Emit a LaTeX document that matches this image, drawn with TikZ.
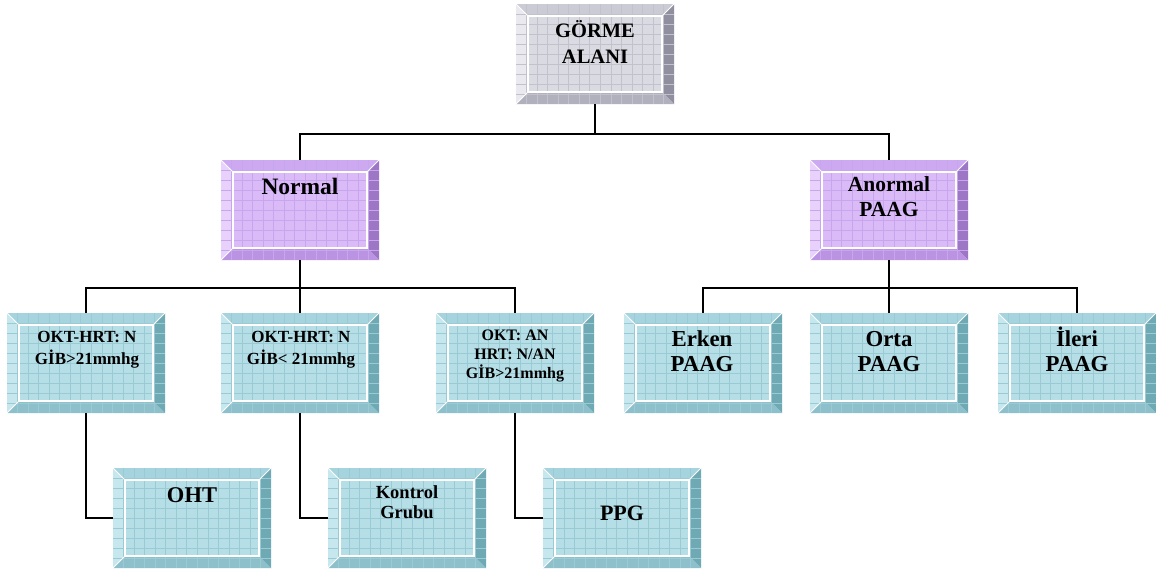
\documentclass[tikz,border=0pt]{standalone}
\usepackage{fontspec}
\setmainfont{Liberation Serif}
\usetikzlibrary{calc}
\definecolor{cyface}{HTML}{B5DEE6}
\definecolor{cytop}{HTML}{A6D4DE}
\definecolor{cyleft}{HTML}{C6E7ED}
\definecolor{cyright}{HTML}{6FA9B4}
\definecolor{cybottom}{HTML}{8DC0CA}
\definecolor{cygrid}{HTML}{9ACAD4}
\definecolor{puface}{HTML}{DABAF7}
\definecolor{putop}{HTML}{CDA9F2}
\definecolor{puleft}{HTML}{E8D2FB}
\definecolor{puright}{HTML}{9D76C6}
\definecolor{pubottom}{HTML}{BA94E2}
\definecolor{pugrid}{HTML}{C7A6EE}
\definecolor{grface}{HTML}{DADAE2}
\definecolor{grtop}{HTML}{CBCBD5}
\definecolor{grleft}{HTML}{E9E9EF}
\definecolor{grright}{HTML}{8F8F9F}
\definecolor{grbottom}{HTML}{B1B1BD}
\definecolor{grgrid}{HTML}{C2C2CC}
\tikzset{
  bx/.style={rectangle, minimum width=158pt, minimum height=100pt, inner sep=0pt, outer sep=0pt, draw=none},
  lbl/.style={align=center, inner sep=0pt, anchor=base},
  conn/.style={draw=black, line width=1.8pt},
}
\newcommand\bevbox[3]{%
  \node[bx, fill=#3face] (#1) at (#2) {};
  \fill[#3top] (#1.north west) -- (#1.north east) -- ([shift={(-12pt,-12pt)}]#1.north east) -- ([shift={(12pt,-12pt)}]#1.north west) -- cycle;
  \fill[#3left] (#1.north west) -- (#1.south west) -- ([shift={(12pt,12pt)}]#1.south west) -- ([shift={(12pt,-12pt)}]#1.north west) -- cycle;
  \fill[#3right] (#1.north east) -- (#1.south east) -- ([shift={(-12pt,12pt)}]#1.south east) -- ([shift={(-12pt,-12pt)}]#1.north east) -- cycle;
  \fill[#3bottom] (#1.south west) -- (#1.south east) -- ([shift={(-12pt,12pt)}]#1.south east) -- ([shift={(12pt,12pt)}]#1.south west) -- cycle;
  \begin{scope}
    \clip (#1.north west) rectangle (#1.south east);
    \foreach \k in {1,...,14} {\draw[#3grid, line width=0.5pt] ([xshift=\k*10.53pt]#1.north west) -- ([xshift=\k*10.53pt]#1.south west);}
    \foreach \k in {1,...,9} {\draw[#3grid, line width=0.5pt] ([yshift=-\k*10pt]#1.north west) -- ([yshift=-\k*10pt]#1.north east);}
  \end{scope}
  \draw[white, line width=1.3pt] ([shift={(12pt,-12pt)}]#1.north west) rectangle ([shift={(-12pt,12pt)}]#1.south east);
  \draw[white, line width=1pt] (#1.north west) -- ([shift={(12pt,-12pt)}]#1.north west);
  \draw[white, line width=1pt] (#1.north east) -- ([shift={(-12pt,-12pt)}]#1.north east);
  \draw[white, line width=1pt] (#1.south west) -- ([shift={(12pt,12pt)}]#1.south west);
}
\newcommand\fs[2]{\bfseries\fontsize{#1}{#2}\selectfont}
\begin{document}
\begin{tikzpicture}[x=1pt, y=-1pt]
\useasboundingbox[fill=white] (0,0) rectangle (1156,570);
% boxes
\bevbox{g}{595,54}{gr}
\bevbox{normal}{300,210}{pu}
\bevbox{anormal}{889,210}{pu}
\bevbox{r31}{86,363}{cy}
\bevbox{r32}{300,363}{cy}
\bevbox{r33}{515,363}{cy}
\bevbox{erken}{703,363}{cy}
\bevbox{orta}{889,363}{cy}
\bevbox{ileri}{1077,363}{cy}
\bevbox{oht}{192,518}{cy}
\bevbox{kontrol}{407,518}{cy}
\bevbox{ppg}{622,518}{cy}
% labels (anchor = baseline of last line)
\node[lbl, font=\fs{20.5}{26}] (gt) at (595,63) {GÖRME\\ALANI};
\node[lbl, font=\fs{23.5}{26}] (normalt) at (300,194) {Normal};
\node[lbl, font=\fs{21.5}{25}] (anormalt) at (889,216) {Anormal\\PAAG};
\node[lbl, font=\fs{17}{22}] (r31t) at (87,364) {OKT-HRT: N\\GİB>21mmhg};
\node[lbl, font=\fs{17}{22}] (r32t) at (301,364) {OKT-HRT: N\\GİB< 21mmhg};
\node[lbl, font=\fs{16}{18.7}] (r33t) at (515,378) {OKT: AN\\HRT: N/AN\\GİB>21mmhg};
\node[lbl, font=\fs{22.8}{25}] (erkent) at (702,371) {Erken\\PAAG};
\node[lbl, font=\fs{22.8}{25}] (ortat) at (889,371) {Orta\\PAAG};
\node[lbl, font=\fs{22.8}{25}] (ilerit) at (1077,371) {İleri\\PAAG};
\node[lbl, font=\fs{22.5}{25}] (ohtt) at (192,502) {OHT};
\node[lbl, font=\fs{18.5}{20}] (kontrolt) at (407,518) {Kontrol\\Grubu};
\node[lbl, font=\fs{22}{25}] (ppgt) at (622,520) {PPG};
% connectors
\draw[conn] (g.south) -- ++(0,31);
\draw[conn] (normal.north) -- ++(0,-26) -| (anormal.north);
\draw[conn] (normal.south) -- ++(0,28);
\draw[conn] (r31.north) -- ++(0,-25) -| (r33.north);
\draw[conn] (r32.north) -- ++(0,-25);
\draw[conn] (anormal.south) -- ++(0,28);
\draw[conn] (erken.north) -- ++(0,-25) -| (ileri.north);
\draw[conn] (orta.north) -- ++(0,-25);
\draw[conn] (r31.south) |- (oht.west);
\draw[conn] (r32.south) |- (kontrol.west);
\draw[conn] (r33.south) |- (ppg.west);
\end{tikzpicture}
\end{document}
